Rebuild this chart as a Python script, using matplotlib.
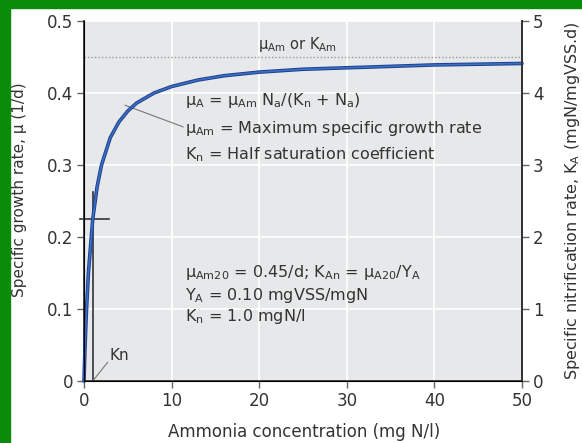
import matplotlib
matplotlib.use('Agg')
import matplotlib.pyplot as plt
from matplotlib.patches import Rectangle

plt.rcParams['font.family'] = ['DejaVu Sans']
plt.rcParams['mathtext.default'] = 'regular'

# values (growth rate curve, 1/d)
ammonia = [0, 0.1, 0.25, 0.5, 1, 1.5, 2, 3, 4, 5, 6, 8, 10, 13, 16, 20, 25, 30, 35, 40, 45, 50]
growth_rate = [0, 0.041, 0.09, 0.15, 0.225, 0.27, 0.30, 0.338, 0.36, 0.375, 0.386, 0.40, 0.409,
               0.418, 0.424, 0.429, 0.433, 0.435, 0.437, 0.439, 0.440, 0.441]
mu_max = 0.45
kn = 1.0
x_ticks = [0, 10, 20, 30, 40, 50]
y_ticks = [0, 0.1, 0.2, 0.3, 0.4, 0.5]
y2_ticks = [0, 1, 2, 3, 4, 5]

fig = plt.figure(figsize=(5.82, 4.43), dpi=100)
fig.patch.set_facecolor('white')

# green frame on top and left
fig.patches.append(Rectangle((0, 0), 10/582, 1, transform=fig.transFigure, color='#0a8c0a', zorder=0))
fig.patches.append(Rectangle((0, 1 - 8/443), 1, 8/443, transform=fig.transFigure, color='#0a8c0a', zorder=0))

ax = fig.add_axes([84/582, 62/443, 438/582, 360/443])
ax.set_facecolor('#e7e8e9')
ax.set_xlim(0, 50)
ax.set_ylim(0, 0.5)
ax.set_xticks(x_ticks)
ax.set_yticks(y_ticks)
ax.set_yticklabels(['0', '0.1', '0.2', '0.3', '0.4', '0.5'])
ax.grid(True, color='white', lw=1.2)
ax.set_axisbelow(True)

ax.spines['top'].set_visible(False)
for s in ['left', 'bottom', 'right']:
    ax.spines[s].set_color('#333333')
    ax.spines[s].set_linewidth(1.3)
ax.tick_params(axis='both', direction='out', length=5, width=1, color='#666666',
               labelsize=12, labelcolor='#333333', pad=3)

# max rate line
ax.axhline(mu_max, color='#999999', lw=1, ls=(0, (1, 1.5)))

# growth curve
ax.plot(ammonia, growth_rate, color='#1f3f8f', lw=2.6, solid_capstyle='round', zorder=3, clip_on=False)
ax.plot(ammonia, growth_rate, color='#3a6fc4', lw=1.2, zorder=4, clip_on=False)

# Kn markers
ax.plot([kn, kn], [0, 0.262], color='#333333', lw=1.2, zorder=2)
ax.plot([-0.45, 2.85], [mu_max / 2, mu_max / 2], color='#333333', lw=1.2, zorder=2, clip_on=False)

txt = dict(fontsize=11.5, color='#333333')
ax.text(19.9, 0.467, r'$μ_{Am}$ or $K_{Am}$', fontsize=10.5, color='#333333', va='center')
ax.text(11.5, 0.39, r'$μ_A$ = $μ_{Am}$ $N_a$/($K_n$ + $N_a$)', va='center', **txt)
ax.text(11.5, 0.35, r'$μ_{Am}$ = Maximum specific growth rate', va='center', **txt)
ax.text(11.5, 0.315, r'$K_n$ = Half saturation coefficient', va='center', **txt)
ax.plot([4.7, 11.3], [0.383, 0.353], color='#777777', lw=0.8, zorder=2)

ax.text(11.5, 0.151, r'$μ_{Am20}$ = 0.45/d; $K_{An}$ = $μ_{A20}$/$Y_A$', va='center', **txt)
ax.text(11.5, 0.119, r'$Y_A$ = 0.10 mgVSS/mgN', va='center', **txt)
ax.text(11.5, 0.089, r'$K_n$ = 1.0 mgN/l', va='center', **txt)

ax.text(2.9, 0.036, 'Kn', va='center', fontsize=11, color='#333333')
ax.plot([kn, 2.7], [0, 0.026], color='#777777', lw=0.8, zorder=2)

ax2 = ax.twinx()
ax2.set_ylim(0, 5)
ax2.set_yticks(y2_ticks)
ax2.spines['top'].set_visible(False)
ax2.spines['right'].set_color('#333333')
ax2.spines['right'].set_linewidth(1.3)
ax2.tick_params(axis='y', direction='out', length=5, width=1, color='#666666',
                labelsize=12, labelcolor='#333333', pad=3)

fig.text(304/582, 1 - 432/443, 'Ammonia concentration (mg N/l)', ha='center', va='center',
         fontsize=12, color='#333333')
fig.text(20/582, 1 - 190/443, 'Specific growth rate, μ (1/d)', ha='center', va='center',
         rotation=90, fontsize=11, color='#333333')
fig.text(572/582, 1 - 380/443, r'Specific nitrification rate, $K_A$ (mgN/mgVSS.d)', ha='center',
         va='bottom', rotation=90, fontsize=11.5, color='#333333')

fig.savefig('out.png', dpi=100)
